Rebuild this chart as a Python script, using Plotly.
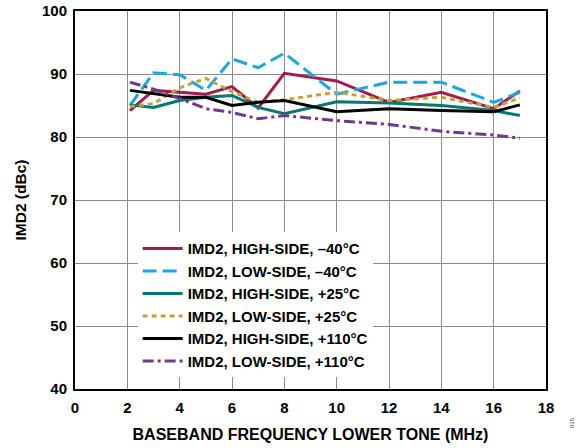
import plotly.graph_objects as go

freq = [2.1, 3, 4, 5, 6, 7, 8, 10, 12, 14, 16, 17]

hs_m40 = [84.2, 87.4, 87.1, 86.8, 88.0, 84.6, 90.1, 88.9, 85.5, 87.1, 84.5, 87.3]
ls_m40 = [85.0, 90.2, 89.9, 87.4, 92.4, 91.0, 93.3, 86.8, 88.7, 88.7, 85.5, 87.1]
hs_p25 = [85.1, 84.7, 85.8, 86.3, 86.6, 84.7, 83.7, 85.6, 85.4, 85.0, 84.2, 83.4]
ls_p25 = [84.8, 85.3, 87.8, 89.3, 87.2, 85.5, 85.9, 87.1, 85.8, 86.3, 84.7, 86.2]
hs_p110 = [87.4, 86.9, 86.3, 86.3, 85.0, 85.5, 85.8, 84.0, 84.5, 84.2, 84.0, 85.1]
ls_p110 = [88.7, 87.6, 86.1, 84.5, 83.9, 82.9, 83.4, 82.6, 82.0, 80.9, 80.3, 79.8]

names = [
    "IMD2, HIGH-SIDE, \u201340\u00b0C",
    "IMD2, LOW-SIDE, \u201340\u00b0C",
    "IMD2, HIGH-SIDE, +25\u00b0C",
    "IMD2, LOW-SIDE, +25\u00b0C",
    "IMD2, HIGH-SIDE, +110\u00b0C",
    "IMD2, LOW-SIDE, +110\u00b0C",
]
series = [hs_m40, ls_m40, hs_p25, ls_p25, hs_p110, ls_p110]
colors = ["#A21D4A", "#1AA7DF", "#007A70", "#C9A038", "#000000", "#6F3A8E"]
dashes = ["solid", "14px,6px", "solid", "5px,4px", "solid", "11px,4px,3px,4px"]

x_ticks = list(range(0, 19, 2))
y_ticks = list(range(40, 101, 10))

fig = go.Figure()
for n, s, c, d in zip(names, series, colors, dashes):
    fig.add_trace(go.Scatter(x=freq, y=s, mode="lines", name=n,
                             line=dict(color=c, width=3, dash=d)))

font_family = "Liberation Sans, Arial, sans-serif"
fig.update_layout(
    width=579, height=448,
    margin=dict(l=75, r=33, t=11, b=59),
    paper_bgcolor="white", plot_bgcolor="white",
    font=dict(family=font_family, color="black"),
    showlegend=True,
    legend=dict(x=0.133, y=0.415, xanchor="left", yanchor="top",
                bgcolor="white", borderwidth=0,
                font=dict(size=15, family=font_family, color="black", weight="bold"),
                itemwidth=40, tracegroupgap=0),
    xaxis=dict(range=[0, 18], tickvals=x_ticks, ticktext=[str(v) for v in x_ticks],
               showgrid=True, gridcolor="#8c8c8c", gridwidth=1,
               showline=True, linecolor="black", linewidth=2, mirror=True,
               ticks="", zeroline=False, automargin=False, ticklabelstandoff=4,
               ticklabeloverflow="allow",
               tickfont=dict(size=15, weight="bold"),
               title=dict(text="BASEBAND FREQUENCY LOWER TONE (MHz)",
                          font=dict(size=16, weight="bold"), standoff=14)),
    yaxis=dict(range=[40, 100], tickvals=y_ticks, ticktext=[str(v) for v in y_ticks],
               showgrid=True, gridcolor="#8c8c8c", gridwidth=1,
               showline=True, linecolor="black", linewidth=2, mirror=True,
               ticks="", zeroline=False, automargin=False, ticklabelstandoff=3,
               ticklabeloverflow="allow",
               tickfont=dict(size=15, weight="bold"),
               title=dict(text="IMD2 (dBc)", font=dict(size=15.5, weight="bold"), standoff=12)),
)
fig.add_annotation(text="035", x=1.0, y=-0.09, xref="paper", yref="paper",
                   xanchor="center", yanchor="middle", xshift=26, textangle=-90,
                   showarrow=False, font=dict(size=6, color="#444444"))

fig.write_html("out.html", config={"displayModeBar": False},
               post_script="document.body.style.margin='0';document.body.style.padding='0';")
